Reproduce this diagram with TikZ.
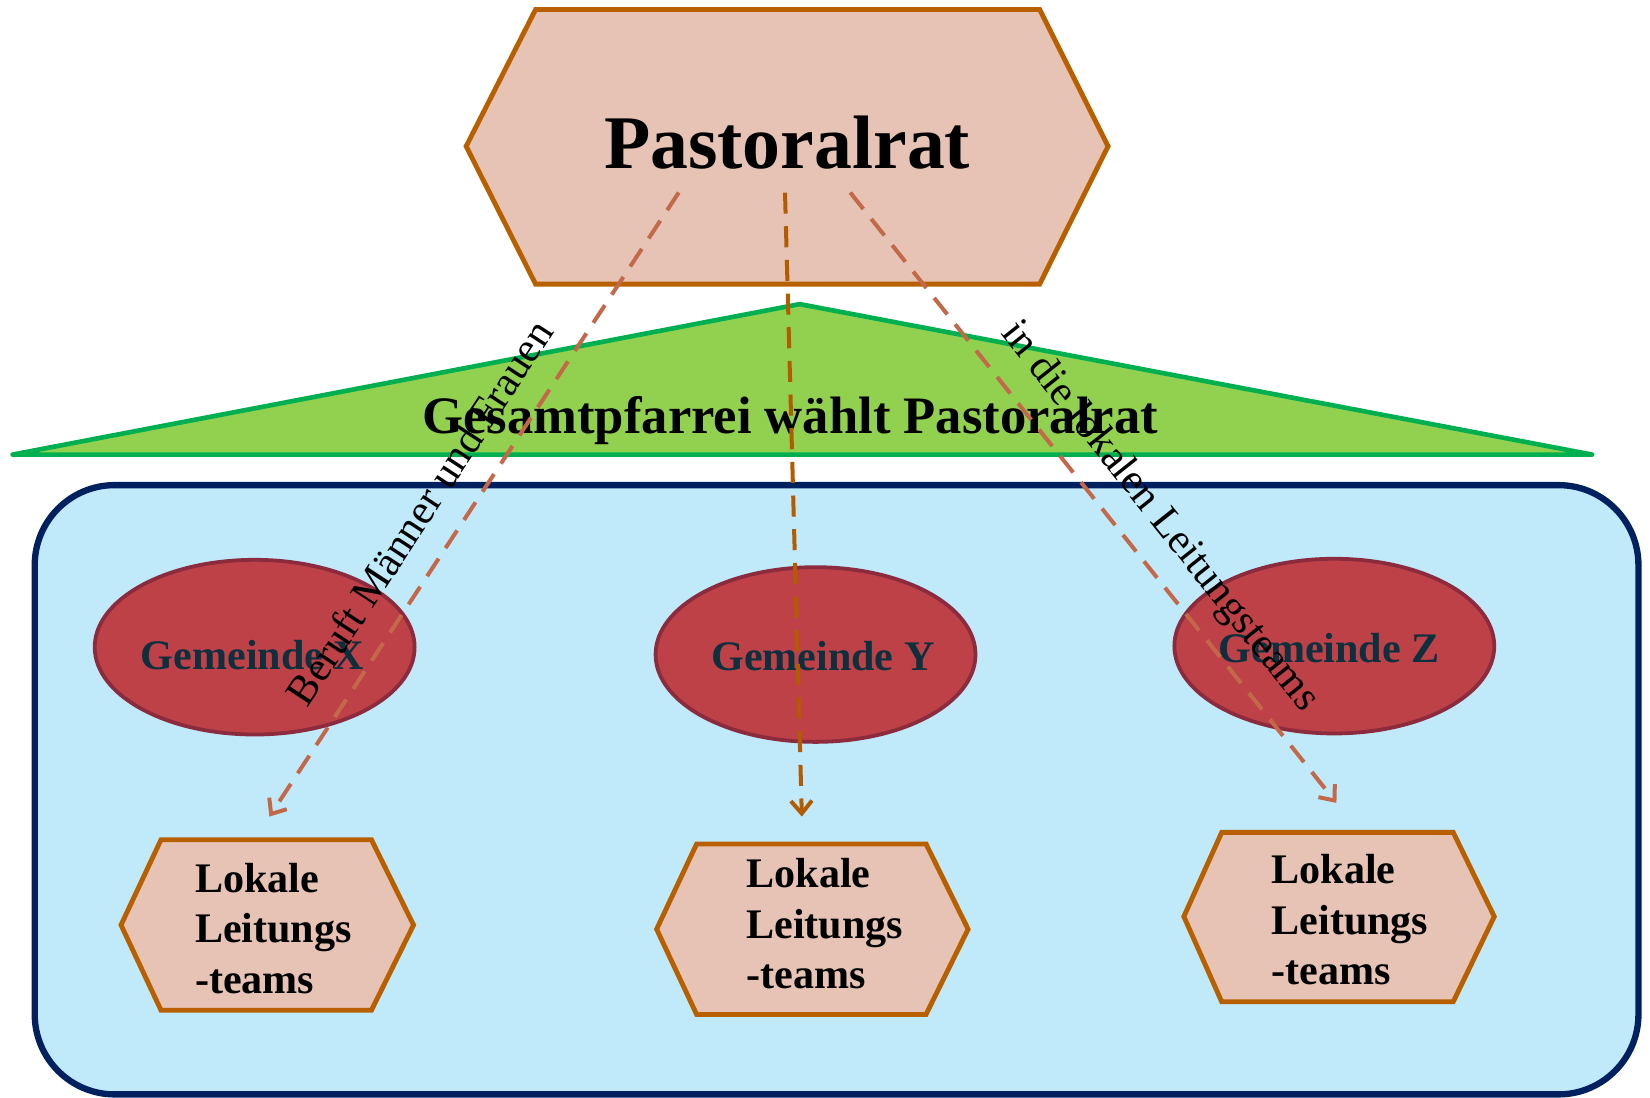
\documentclass[tikz,border=0pt]{standalone}
\usepackage{fontspec}
\setmainfont{Liberation Serif}
\usetikzlibrary{arrows.meta,shapes.geometric}
\definecolor{hexfill}{HTML}{E6C3B4}
\definecolor{hexdraw}{HTML}{B85F00}
\definecolor{grfill}{HTML}{92D050}
\definecolor{grdraw}{HTML}{00B050}
\definecolor{skyfill}{HTML}{C0EAF9}
\definecolor{navy}{HTML}{002060}
\definecolor{gemfill}{HTML}{BD4147}
\definecolor{gemdraw}{HTML}{8C2A3E}
\definecolor{gemtext}{HTML}{0E2F3E}
\definecolor{sideline}{HTML}{C3694A}
\definecolor{midline}{HTML}{B35B00}
\begin{document}
\begin{tikzpicture}[x=0.5pt,y=-0.5pt,
  hexshape/.style={draw=hexdraw, fill=hexfill, line width=2.3pt, line join=miter},
  tri/.style={draw=grdraw, fill=grfill, line width=2.2pt, line join=round, line cap=round},
  frame/.style={draw=navy, fill=skyfill, line width=3pt, rounded corners=38pt},
  gem/.style={ellipse, draw=gemdraw, fill=gemfill, line width=1.8pt, minimum width=152pt, minimum height=83pt, inner sep=0pt},
  gemlbl/.style={text=gemtext, font=\bfseries\fontsize{20}{24}\selectfont, anchor=base, inner sep=0pt},
  lok/.style={font=\bfseries\fontsize{20}{24}\selectfont, align=left, anchor=west, inner sep=0pt},
  conn/.style={line width=1.9pt, dash pattern=on 10pt off 6pt, -{Straight Barb[length=6pt,width=10pt]}},
  lbl/.style={font=\fontsize{20}{24}\selectfont, inner sep=0pt, sloped}
]
\useasboundingbox (0,0) rectangle (1568,1043);

% blue frame
\draw[frame] (33,461) rectangle (1557,1040);

% green triangle
\draw[tri] (12,432) -- (760,289) -- (1513,432) -- cycle;
\node[font=\bfseries\fontsize{25}{30}\selectfont, anchor=base, inner sep=0pt] (gesamt) at (751,412) {Gesamtpfarrei wählt Pastoralrat};

% top hexagon
\draw[hexshape] (509,9) -- (988,9) -- (1053,139) -- (988,270) -- (509,270) -- (443,139) -- cycle;
\node[font=\bfseries\fontsize{36}{40}\selectfont, anchor=base, inner sep=0pt] (pastoral) at (748,160) {Pastoralrat};

% Gemeinden
\node[gem] (gx) at (242,615) {};
\node[gem] (gy) at (775,622) {};
\node[gem] (gz) at (1268,614) {};
\node[gemlbl] (gxt) at (240,636) {Gemeinde X};
\node[gemlbl] (gyt) at (782,637) {Gemeinde Y};
\node[gemlbl] (gzt) at (1263,630) {Gemeinde Z};

% Lokale Leitungsteams hexagons
\draw[hexshape] (153,798) -- (353,798) -- (393,879) -- (353,960) -- (153,960) -- (115,879) -- cycle;
\draw[hexshape] (662,802) -- (880,802) -- (920,883) -- (880,964) -- (662,964) -- (624,883) -- cycle;
\draw[hexshape] (1161,791) -- (1381,791) -- (1420,871) -- (1381,952) -- (1161,952) -- (1125,871) -- cycle;
\node[lok] (lx) at (185,882) {Lokale\\Leitungs\\-teams};
\node[lok] (ly) at (709,878) {Lokale\\Leitungs\\-teams};
\node[lok] (lz) at (1208,874) {Lokale\\Leitungs\\-teams};

% connector ends
\coordinate (s1) at (645,183);
\coordinate (s2) at (746,183);
\coordinate (s3) at (808,183);
\coordinate (e1) at (256,776);
\coordinate (e2) at (762,776);
\coordinate (e3) at (1270,763);

\draw[conn, draw=sideline] (s1) -- (e1)
  node[lbl, pos=0.549, above=11.8pt] (lblx) {Beruft Männer und Frauen};
\draw[conn, draw=midline] (s2) -- (e2);
\draw[conn, draw=sideline] (s3) -- (e3)
  node[lbl, pos=0.572, above=8.6pt] (lblz) {in die lokalen Leitungsteams};
\end{tikzpicture}
\end{document}
